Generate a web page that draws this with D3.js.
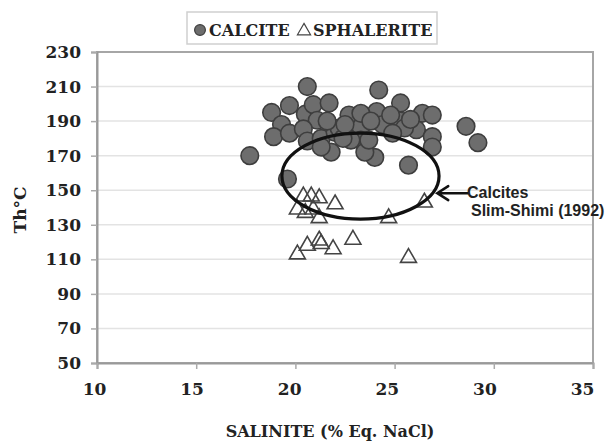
<!DOCTYPE html>
<html><head><meta charset="utf-8">
<script src="https://cdn.jsdelivr.net/npm/d3@7/dist/d3.min.js"></script>
<style>
html,body{margin:0;padding:0;background:#fff;}
svg{display:block;}
text{font-family:"DejaVu Serif",serif;font-weight:bold;fill:#222;}
</style></head><body>
<svg id="chart" width="613" height="445"></svg>
<script>
// Data
const calciteX = [17.7,18.8,19.7,19.3,18.9,19.7,20.6,20.5,20.9,21.7,21.1,20.4,20.6,21.3,21.8,21.3,22.0,22.7,23.3,23.3,24.2,25.3,24.1,23.3,25.3,26.4,26.9,24.4,26.1,26.9,26.9,28.6,29.2,25.7,24.0,23.5,23.7,22.8,24.8,19.6,22.2,21.6,25.5,24.9,22.4,23.8,25.8,22.5];
const calciteY = [170,195,199,188,181,183,210,194,199.5,200.5,190.5,185.5,178.5,180,172,175,183.5,193.5,186.5,179,208,200.5,195.5,194.5,190,194.5,193.5,188,185,181,175,187,177.5,164.5,169,172,179,179,193.5,156.5,186,190,186,183,180,190,191,188];
const sphalX = [20.4,20.8,21.2,22.0,20.1,20.5,21.2,20.9,24.7,26.5,20.1,20.6,21.2,21.3,21.9,22.9,25.7];
const sphalY = [147,147,146,142.5,139.5,137.5,134.5,139.5,134.5,143.5,113.5,118.5,121.5,119.5,116.5,122,111.5];
const xTicks = [10,15,20,25,30,35];
const yTicks = [50,70,90,110,130,150,170,190,210,230];
const seriesNames = ["CALCITE","SPHALERITE"];
// Slim-Shimi (1992) calcite field (ellipse) and annotation
const ellipseCenter = [23.28,158.2];
const ellipseRadii = [3.96,24.9];
const arrowFrom = [28.7,148.3];
const arrowTo = [27.15,148.3];
const noteLines = ["Calcites","Slim-Shimi (1992)"];
const xTitle = "SALINITE (% Eq. NaCl)";
const yTitle = "Th°C";

const svg = d3.select("#chart");
const L=97,R=593,T=52,B=363;
const x = d3.scaleLinear().domain([10,35]).range([L,R]);
const y = d3.scaleLinear().domain([50,230]).range([B,T]);

// gridlines
svg.append("g").selectAll("line").data(yTicks.filter(d=>d>50&&d<230)).join("line")
  .attr("x1",L).attr("x2",R).attr("y1",d=>y(d)).attr("y2",d=>y(d))
  .attr("stroke","#e3e3e3").attr("stroke-width",1.5);

// frame
svg.append("rect").attr("x",L).attr("y",T).attr("width",R-L).attr("height",B-T)
  .attr("fill","none").attr("stroke","#a6a6a6").attr("stroke-width",2);

// axes
const yAxis = svg.append("g").attr("transform",`translate(${L},0)`)
  .call(d3.axisLeft(y).tickValues(yTicks).tickSize(6).tickPadding(10).tickFormat(d3.format("d")));
const xAxis = svg.append("g").attr("transform",`translate(0,${B})`)
  .call(d3.axisBottom(x).tickValues(xTicks).tickSize(6).tickPadding(14).tickFormat(d3.format("d")));
[xAxis,yAxis].forEach(a=>{
  a.select(".domain").attr("stroke","#999").attr("stroke-width",2);
  a.selectAll(".tick line").attr("stroke","#aaa").attr("stroke-width",1.5);
  a.selectAll(".tick text").style("font-family","DejaVu Serif").style("font-weight","bold")
    .style("font-size","17px").attr("fill","#222");
});
xAxis.selectAll(".tick text").attr("dx",(d,i)=>-3-i*1.6);

// axis titles
svg.append("text").attr("x",330).attr("y",437).attr("text-anchor","middle")
  .style("font-size","16px").text(xTitle);
svg.append("text").attr("transform","translate(26,210) rotate(-90)").attr("text-anchor","middle")
  .style("font-size","17px").text(yTitle);

// calcite circles
const calc = calciteX.map((v,i)=>({x:v,y:calciteY[i]}));
svg.append("g").selectAll("circle").data(calc).join("circle")
  .attr("cx",d=>x(d.x)).attr("cy",d=>y(d.y)).attr("r",8.8)
  .attr("fill","#6d6d6d").attr("stroke","#3e3e3e").attr("stroke-width",1.6);

// sphalerite triangles
const sph = sphalX.map((v,i)=>({x:v,y:sphalY[i]}));
const tri = d3.symbol().type(d3.symbolTriangle).size(110);
svg.append("g").selectAll("path").data(sph).join("path")
  .attr("d",tri).attr("transform",d=>`translate(${x(d.x)},${y(d.y)+1})`)
  .attr("fill","none").attr("stroke","#444").attr("stroke-width",1.6);

// ellipse
svg.append("ellipse")
  .attr("cx",x(ellipseCenter[0])).attr("cy",y(ellipseCenter[1]))
  .attr("rx",x(ellipseCenter[0]+ellipseRadii[0])-x(ellipseCenter[0]))
  .attr("ry",y(ellipseCenter[1]-ellipseRadii[1])-y(ellipseCenter[1]))
  .attr("fill","none").attr("stroke","#111").attr("stroke-width",3.2);

// arrow
const ax0=x(arrowTo[0]), ay=y(arrowTo[1]), ax1=x(arrowFrom[0]);
svg.append("path").attr("d",`M${ax1},${ay}L${ax0},${ay}M${ax0+11},${ay-7}L${ax0},${ay}L${ax0+11},${ay+7}`)
  .attr("fill","none").attr("stroke","#111").attr("stroke-width",2.5).attr("stroke-linecap","round");
svg.append("text").attr("x",ax1-1).attr("y",ay+5)
  .style("font-family","Liberation Sans, Arial, sans-serif").style("font-size","16px").text(noteLines[0]);
svg.append("text").attr("x",ax1+3).attr("y",ay+23)
  .style("font-family","Liberation Sans, Arial, sans-serif").style("font-size","16px").text(noteLines[1]);

// legend
const lg = svg.append("g");
lg.append("rect").attr("x",187).attr("y",12).attr("width",250).attr("height",32)
  .attr("fill","#fff").attr("stroke","#cfcfcf").attr("stroke-width",1.5);
lg.append("circle").attr("cx",200).attr("cy",30).attr("r",5.4)
  .attr("fill","#6d6d6d").attr("stroke","#3e3e3e").attr("stroke-width",1.2);
lg.append("text").attr("x",209).attr("y",36).style("font-size","16px").text(seriesNames[0]);
lg.append("path").attr("d",d3.symbol().type(d3.symbolTriangle).size(75))
  .attr("transform","translate(304,31)").attr("fill","none").attr("stroke","#444").attr("stroke-width",1.2);
lg.append("text").attr("x",313).attr("y",36).style("font-size","16px").text(seriesNames[1]);
</script>
</body></html>
